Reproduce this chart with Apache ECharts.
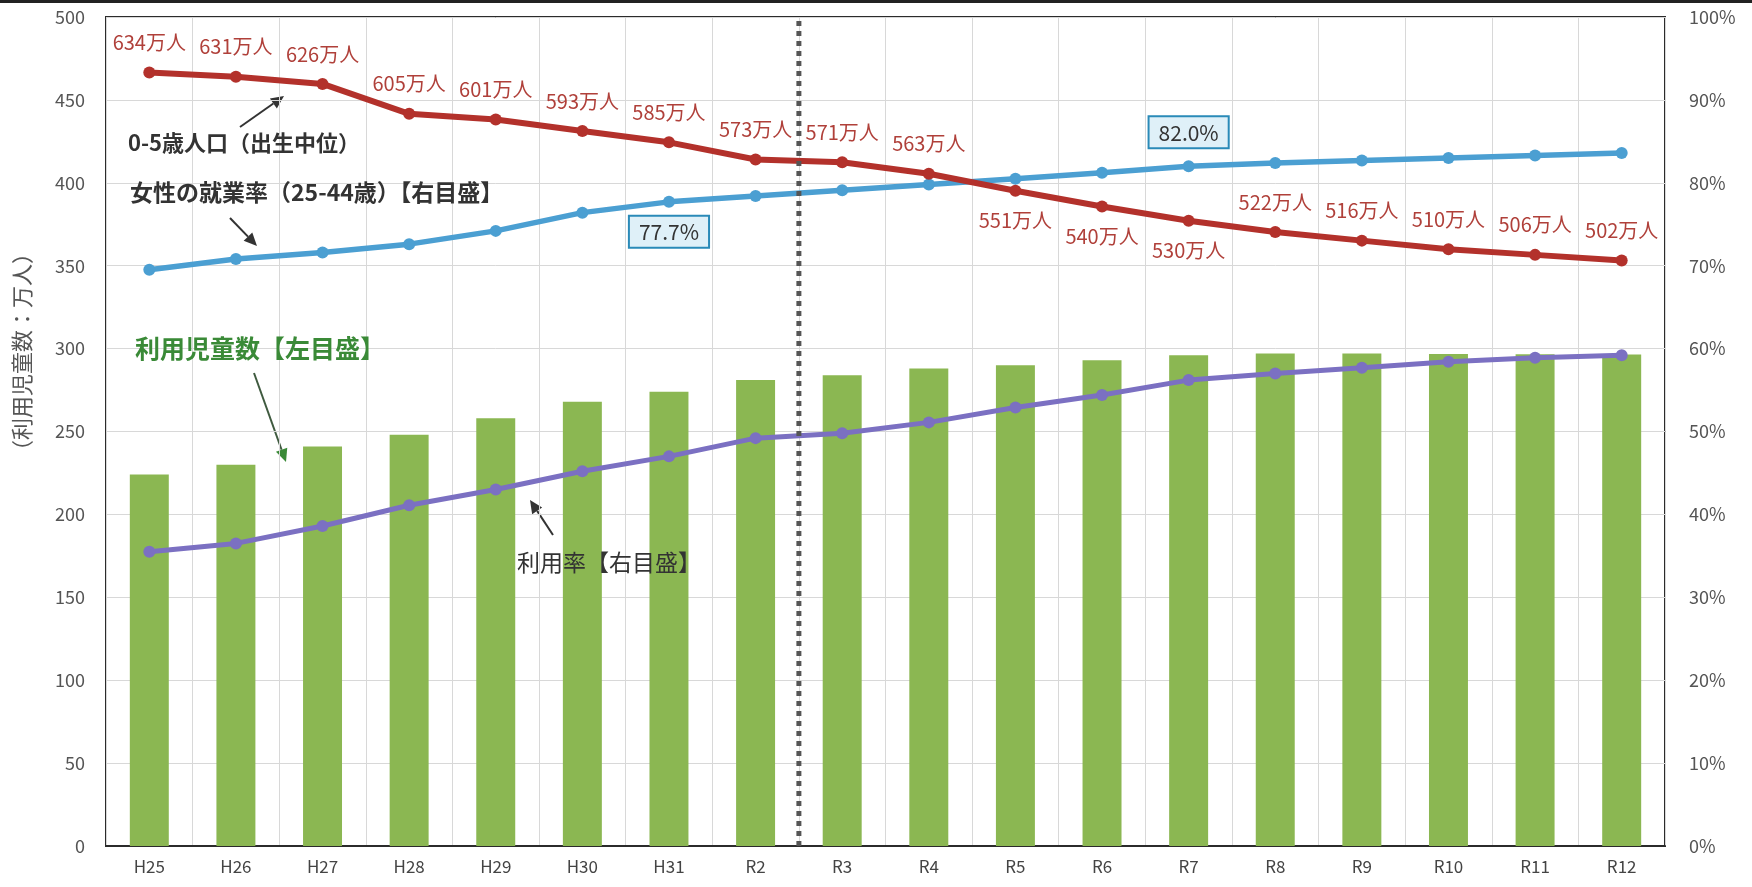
<!DOCTYPE html>
<html>
<head>
<meta charset="utf-8">
<script src="https://cdn.jsdelivr.net/npm/echarts@6/dist/echarts.min.js"></script>
<style>
html,body{margin:0;padding:0;background:#fff;}
#chart{width:1752px;height:887px;}
</style>
</head>
<body>
<div id="chart"></div>
<script>
// ---- data ----
const categories = ['H25','H26','H27','H28','H29','H30','H31','R2','R3','R4','R5','R6','R7','R8','R9','R10','R11','R12'];
const childUsers = [224, 230, 241, 248, 258, 268, 274, 281, 284, 288, 290, 293, 296, 297, 297, 296.8, 296.6, 296.4]; // 万人 (left axis)
const population05 = [634, 631, 626, 605, 601, 593, 585, 573, 571, 563, 551, 540, 530, 522, 516, 510, 506, 502]; // 万人
const femaleEmployment = [69.5, 70.8, 71.6, 72.6, 74.2, 76.4, 77.7, 78.4, 79.1, 79.8, 80.5, 81.2, 82.0, 82.4, 82.7, 83.0, 83.3, 83.6]; // %
const usageRate = [35.5, 36.5, 38.6, 41.1, 43.0, 45.2, 47.0, 49.2, 49.8, 51.1, 52.9, 54.4, 56.2, 57.0, 57.7, 58.4, 58.9, 59.2]; // %
const leftTicks = {min: 0, max: 500, interval: 50};
const rightTicks = {min: 0, max: 100, interval: 10};
const popBelowLabels = ['R5', 'R6', 'R7'];
const boxedEmployment = ['H31', 'R7'];
const dividerIndex = 8; // boundary between R2 and R3

const FONT = '"Noto Sans CJK JP", "Noto Sans", sans-serif';
const RED = '#b3312b', RED_TXT = '#b0403a', BLUE = '#4b9fd2', PURPLE = '#7b70c2', GREEN = '#8bb752';

const chart = echarts.init(document.getElementById('chart'));

const popData = population05.map((v, i) => ({
  value: v,
  label: {position: popBelowLabels.includes(categories[i]) ? 'bottom' : 'top'}
}));

const empData = femaleEmployment.map((v, i) => {
  const c = categories[i];
  if (!boxedEmployment.includes(c)) return v / 100;
  return {
    value: v / 100,
    label: {
      show: true,
      position: c === 'H31' ? 'bottom' : 'top',
      distance: c === 'H31' ? 9 : 13,
      formatter: v.toFixed(1) + '%',
      color: '#333', fontSize: 21, fontFamily: FONT,
      backgroundColor: '#dff0f8', borderColor: '#2a8ab8', borderWidth: 2,
      padding: [5, 9, 4, 9]
    }
  };
});

function arrow(x1, y1, x2, y2, color, headColor) {
  const ang = Math.atan2(y2 - y1, x2 - x1);
  const L = 13, W = 6;
  const bx = x2 - L * Math.cos(ang), by = y2 - L * Math.sin(ang);
  const px = -Math.sin(ang) * W, py = Math.cos(ang) * W;
  return {
    type: 'group', z: 100,
    children: [
      {type: 'line', shape: {x1, y1, x2: bx, y2: by}, style: {stroke: color, lineWidth: 2}},
      {type: 'polygon', shape: {points: [[x2, y2], [bx + px, by + py], [bx - px, by - py]]}, style: {fill: headColor || color}}
    ]
  };
}

const option = {
  backgroundColor: '#fff',
  animation: false,
  textStyle: {fontFamily: FONT},
  grid: {left: 106, right: 87, top: 17, bottom: 41, show: true, borderColor: '#2b2b2b', borderWidth: 2, backgroundColor: 'transparent'},
  xAxis: [
    {
      type: 'category', data: categories, boundaryGap: true,
      axisLine: {show: true, lineStyle: {color: '#2b2b2b', width: 2}},
      axisTick: {show: false},
      axisLabel: {color: '#444', fontSize: 17, margin: 12, fontFamily: FONT},
      splitLine: {show: true, lineStyle: {color: '#d8d8d8', width: 1}}
    },
    {type: 'value', min: 0, max: categories.length, show: false}
  ],
  yAxis: [
    {
      type: 'value', min: leftTicks.min, max: leftTicks.max, interval: leftTicks.interval,
      axisLine: {show: false}, axisTick: {show: false},
      axisLabel: {color: '#555', fontSize: 18, margin: 21, fontFamily: FONT},
      splitLine: {show: true, lineStyle: {color: '#d8d8d8', width: 1}}
    },
    {
      type: 'value', position: 'right', min: rightTicks.min / 100, max: rightTicks.max / 100, interval: rightTicks.interval / 100,
      axisLine: {show: false}, axisTick: {show: false},
      axisLabel: {color: '#555', fontSize: 18, margin: 24, fontFamily: FONT, formatter: v => Math.round(v * 100) + '%'},
      splitLine: {show: false}
    },
    {type: 'value', min: 91, max: 673, show: false}
  ],
  series: [
    {
      name: '利用児童数', type: 'bar', data: childUsers, barWidth: '45%',
      itemStyle: {color: GREEN}, z: 2
    },
    {
      name: '利用率', type: 'line', yAxisIndex: 1, data: usageRate.map(v => v / 100),
      symbol: 'circle', symbolSize: 12, lineStyle: {color: PURPLE, width: 5}, itemStyle: {color: PURPLE}, z: 4
    },
    {
      name: '女性の就業率', type: 'line', yAxisIndex: 1, data: empData,
      symbol: 'circle', symbolSize: 12, lineStyle: {color: BLUE, width: 5.5}, itemStyle: {color: BLUE}, z: 5
    },
    {
      name: '0-5歳人口', type: 'line', yAxisIndex: 2, data: popData,
      symbol: 'circle', symbolSize: 12, lineStyle: {color: RED, width: 6}, itemStyle: {color: RED}, z: 6,
      label: {show: true, formatter: '{c}万人', color: RED_TXT, fontSize: 20, distance: 14, fontFamily: FONT}
    },
    {
      name: 'divider', type: 'line', xAxisIndex: 1, yAxisIndex: 0,
      data: [[dividerIndex, leftTicks.min], [dividerIndex, leftTicks.max]],
      symbol: 'none', silent: true, z: 10,
      lineStyle: {color: '#555', width: 5, type: [5, 5]}
    }
  ],
  graphic: [
    {type: 'rect', left: 0, top: 0, shape: {width: 1752, height: 3}, style: {fill: '#222'}},
    {type: 'text', x: 22, y: 352, rotation: Math.PI / 2,
      style: {text: '（利用児童数：万人）', fill: '#555', font: '22px ' + FONT, textAlign: 'center', textVerticalAlign: 'middle'}},
    {type: 'text', x: 128, y: 143, z: 100,
      style: {text: '0-5歳人口（出生中位）', fill: '#333', font: 'bold 22px ' + FONT, textAlign: 'left', textVerticalAlign: 'middle'}},
    arrow(240, 127, 284, 96, '#333'),
    {type: 'text', x: 130, y: 192, z: 100,
      style: {text: '女性の就業率（25-44歳）【右目盛】', fill: '#333', font: 'bold 23px ' + FONT, textAlign: 'left', textVerticalAlign: 'middle'}},
    arrow(230, 218, 257, 246, '#333'),
    {type: 'text', x: 135, y: 348, z: 100,
      style: {text: '利用児童数【左目盛】', fill: '#3a8a37', font: 'bold 25px ' + FONT, textAlign: 'left', textVerticalAlign: 'middle'}},
    arrow(254, 373, 286, 462, '#3f5a3f', '#3a8a37'),
    {type: 'text', x: 517, y: 562, z: 100,
      style: {text: '利用率【右目盛】', fill: '#333', font: '23px ' + FONT, textAlign: 'left', textVerticalAlign: 'middle'}},
    arrow(553, 535, 530, 500, '#333')
  ]
};
chart.setOption(option);
</script>
</body>
</html>
